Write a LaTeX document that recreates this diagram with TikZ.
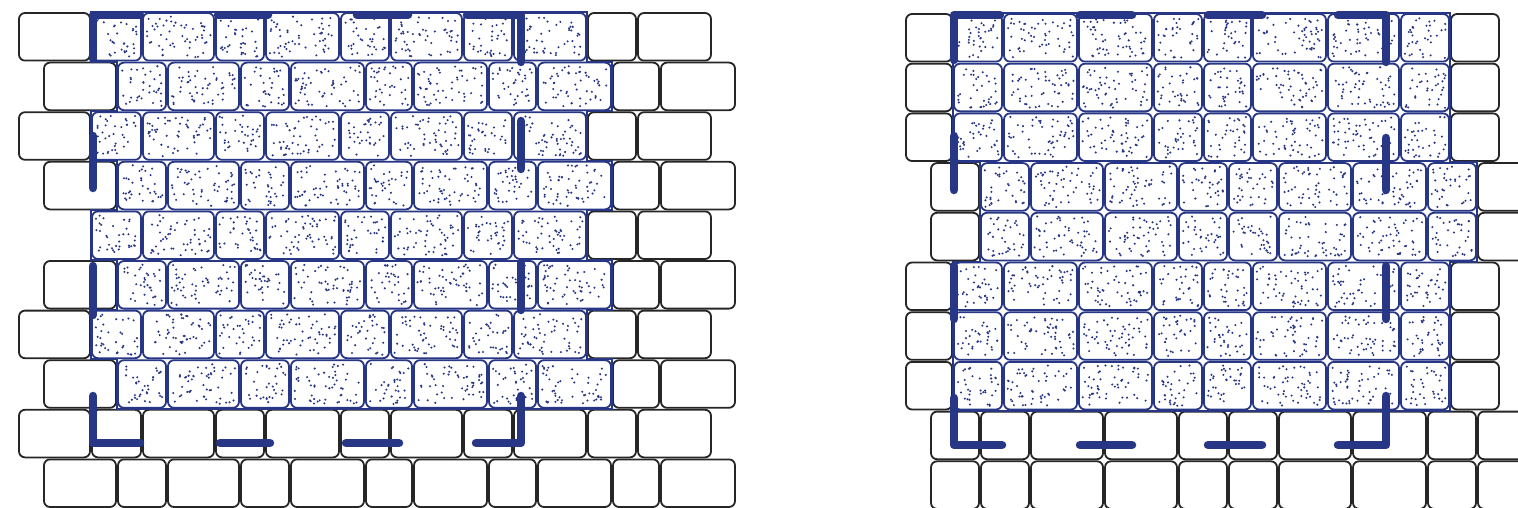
\documentclass[tikz,border=0pt]{standalone}
\definecolor{wallblue}{RGB}{40,54,134}
\tikzset{
  brick/.style={draw=black!85, line width=1.8pt, rounded corners=6pt, fill=white},
  dotbrick/.style={draw=wallblue, line width=1.8pt, rounded corners=6pt, fill=white},
  grain/.style={fill=wallblue},
  rim/.style={draw=wallblue, line width=2pt},
  cutline/.style={draw=wallblue, line width=8.5pt, line cap=round, line join=round}
}
% a row of plain bricks: top edge, x edges of the joints
\newcommand\plainrow[2]{%
  \foreach \xb [count=\k, remember=\xb as \xa] in {#2}{%
    \ifnum\k>1 \draw[brick] (\xa+1,#1+1) rectangle (\xb-1,#1+48.6);\fi}}
% a row of dotted bricks
\newcommand\dotrow[2]{%
  \foreach \xb [count=\k, remember=\xb as \xa] in {#2}{%
    \ifnum\k>1
      \draw[dotbrick] (\xa+1,#1+1) rectangle (\xb-1,#1+48.6);
      \pgfmathtruncatemacro\nd{(\xb-\xa)*0.7}
      \foreach \d in {1,...,\nd}{%
        \fill[grain] ({\xa+4.5+rnd*(\xb-\xa-9)},{#1+4.5+rnd*40.6}) circle (1.15);}
    \fi}}
\pgfmathsetseed{4711}
\begin{document}
\begin{tikzpicture}[x=1pt,y=-1pt]
\useasboundingbox (0,0) rectangle (1518,508);
\clip (0,0) rectangle (1518,508);

% left wall
\foreach \y in {12,111.2,309.6}{\plainrow{\y}{18,91}}
\foreach \y in {12,111.2,210.4,309.6}{%
  \plainrow{\y}{587,637,712}
  \dotrow{\y}{91,142,215,265,340,390,463,513,587}}
\foreach \y in {61.6,160.8,260,359.2}{%
  \plainrow{\y}{43,117}
  \plainrow{\y}{612,660,736}
  \dotrow{\y}{117,167,240,290,365,413,488,537,612}}
\plainrow{408.8}{18,91,142,215,265,340,390,463,513,587,637,712}
\plainrow{458.4}{43,117,167,240,290,365,413,488,537,612,660,736}
\draw[rim] (91,12) -- (587,12) -- (587,61.6) -- (612,61.6) -- (612,111.2)
  -- (587,111.2) -- (587,160.8) -- (612,160.8) -- (612,210.4) -- (587,210.4)
  -- (587,260) -- (612,260) -- (612,309.6) -- (587,309.6) -- (587,359.2)
  -- (612,359.2) -- (612,408.8) -- (117,408.8) -- (117,359.2) -- (91,359.2)
  -- (91,309.6) -- (117,309.6) -- (117,260) -- (91,260) -- (91,210.4)
  -- (117,210.4) -- (117,160.8) -- (91,160.8) -- (91,111.2) -- (117,111.2)
  -- (117,61.6) -- (91,61.6) -- cycle;

% right wall
\foreach \y in {13,62.7,112.4,261.5,311.2,360.9}{%
  \plainrow{\y}{905,953}
  \plainrow{\y}{1450,1500}
  \dotrow{\y}{953,1003,1078,1153,1203,1252,1327,1400,1450}}
\foreach \y in {162.1,211.8}{%
  \plainrow{\y}{930,980}
  \plainrow{\y}{1477,1527}
  \dotrow{\y}{980,1030,1104,1178,1228,1278,1352,1427,1477}}
\foreach \y in {410.6,460.3}{%
  \plainrow{\y}{930,980,1030,1104,1178,1228,1278,1352,1427,1477,1527}}
\draw[rim] (953,13) -- (1450,13) -- (1450,162.1) -- (1477,162.1) -- (1477,261.5)
  -- (1450,261.5) -- (1450,410.6) -- (953,410.6) -- (953,261.5) -- (980,261.5)
  -- (980,162.1) -- (953,162.1) -- cycle;

% cut outline, left
\draw[cutline] (93,59) -- (93,15) -- (140,15);
\draw[cutline] (218,15) -- (268,15);
\draw[cutline] (357,15) -- (408,15);
\draw[cutline] (467,15) -- (521,15) -- (521,62);
\draw[cutline] (93,136) -- (93,188);
\draw[cutline] (93,266) -- (93,315);
\draw[cutline] (521,121) -- (521,169);
\draw[cutline] (521,263) -- (521,310);
\draw[cutline] (93,396) -- (93,443) -- (140,443);
\draw[cutline] (220,443) -- (270,443);
\draw[cutline] (346,443) -- (399,443);
\draw[cutline] (476,443) -- (521,443) -- (521,396);

% cut outline, right
\draw[cutline] (954,60) -- (954,15) -- (1000,15);
\draw[cutline] (1080,15) -- (1132,15);
\draw[cutline] (1208,15) -- (1262,15);
\draw[cutline] (1338,15) -- (1386,15) -- (1386,62);
\draw[cutline] (954,136) -- (954,190);
\draw[cutline] (954,266) -- (954,319);
\draw[cutline] (1386,138) -- (1386,190);
\draw[cutline] (1386,266) -- (1386,319);
\draw[cutline] (954,398) -- (954,445) -- (1002,445);
\draw[cutline] (1080,445) -- (1132,445);
\draw[cutline] (1208,445) -- (1262,445);
\draw[cutline] (1338,445) -- (1386,445) -- (1386,396);
\end{tikzpicture}
\end{document}
